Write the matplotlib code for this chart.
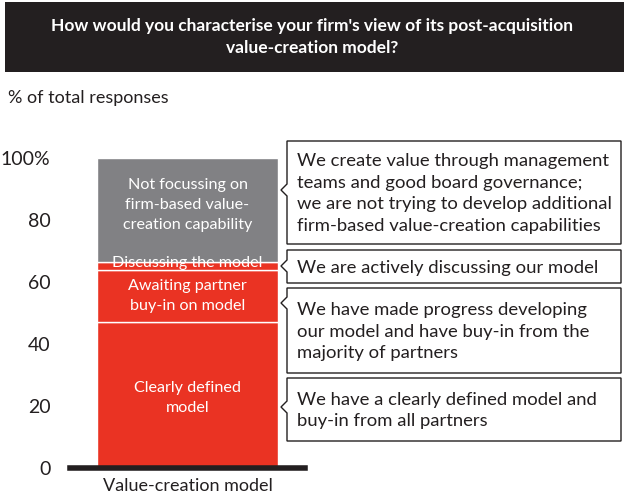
import matplotlib
matplotlib.use('Agg')
from matplotlib import pyplot as plt
from matplotlib.patches import Rectangle, Polygon

plt.rcParams['font.family'] = ['Lato', 'DejaVu Sans']

# data
category = 'Value-creation model'
segments = ['Clearly defined\nmodel', 'Awaiting partner\nbuy-in on model',
            'Discussing the model', 'Not focussing on\nfirm-based value-\ncreation capability']
values = [47, 17, 2.5, 33.5]
colors = ['#ea3323', '#ea3323', '#ea3323', '#818184']
yticks = [0, 20, 40, 60, 80, 100]
ytick_labels = ['0', '20', '40', '60', '80', '100%']
callouts = [
    'We create value through management\nteams and good board governance;\nwe are not trying to develop additional\nfirm-based value-creation capabilities',
    'We are actively discussing our model',
    'We have made progress developing\nour model and have buy-in from the\nmajority of partners',
    'We have a clearly defined model and\nbuy-in from all partners',
]
title = "How would you characterise your firm's view of its post-acquisition\nvalue-creation model?"

W, H = 624, 504
fig = plt.figure(figsize=(W / 100, H / 100), dpi=100)

# overlay in pixel coords for title bar and callouts
ov = fig.add_axes([0, 0, 1, 1])
ov.set_xlim(0, W)
ov.set_ylim(H, 0)
ov.axis('off')
ov.add_patch(Rectangle((5, 2), 619, 70, facecolor='#231f20', edgecolor='none'))
ov.text(312, 37, title, color='white', fontsize=12.5, fontweight='bold',
        ha='center', va='center', linespacing=1.45)
ov.text(8, 98, '% of total responses', fontsize=13, va='center', ha='left', color='#231f20')

# callout boxes: (top, bottom, pointer y) in pixels
boxes = [(141, 244, 190), (250, 283, 266), (288, 373, 303), (378, 441, 407)]
x0, x1, n = 287, 621, 6
for (top, bot, py), txt in zip(boxes, callouts):
    pts = [(x0, top), (x1, top), (x1, bot), (x0, bot), (x0, py + n), (x0 - n, py), (x0, py - n)]
    ov.add_patch(Polygon(pts, closed=True, facecolor='white', edgecolor='#231f20', lw=1.0))
    ov.text(x0 + 10, (top + bot) / 2 + 1, txt, fontsize=13.3, va='center', ha='left',
            color='#231f20', linespacing=1.45)

# bar chart
ax = fig.add_axes([70 / W, 1 - 468 / H, 235 / W, 310 / H])
ax.set_zorder(ov.get_zorder() - 1)
label_shift = [-0.8, 0, 0.8, 1.5]
bottom = 0
for seg, v, c, off in zip(segments, values, colors, label_shift):
    ax.bar(0, v, bottom=bottom, width=0.766, color=c, edgecolor='white', linewidth=1.0)
    ax.text(0, bottom + v / 2 + off, seg, color='white', ha='center',
            va='center', fontsize=11.6, linespacing=1.55)
    bottom += v
ax.set_xlim(-0.5, 0.5)
ax.set_ylim(0, 100)
for s in ['top', 'right', 'left']:
    ax.spines[s].set_visible(False)
ax.spines['bottom'].set_linewidth(4)
ax.spines['bottom'].set_color('#231f20')
ax.set_yticks(yticks)
ax.set_yticklabels(ytick_labels, fontsize=14, color='#231f20')
ax.tick_params(axis='y', length=0, pad=14)
ax.set_xticks([0])
ax.set_xticklabels([category], fontsize=13, color='#231f20')
ax.tick_params(axis='x', length=0, pad=7)

fig.savefig('out.png', dpi=100)
